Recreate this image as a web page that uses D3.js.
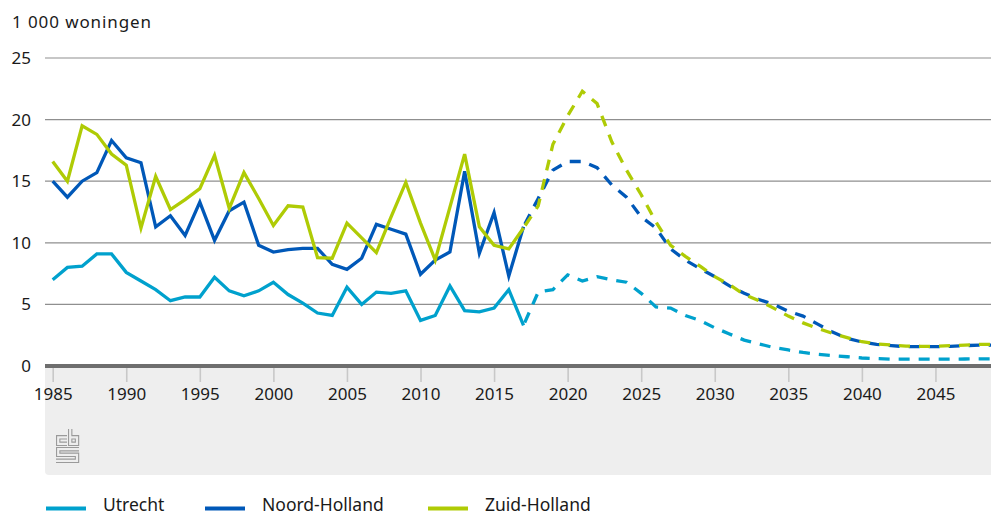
<!DOCTYPE html>
<html>
<head>
<meta charset="utf-8">
<script src="https://cdn.jsdelivr.net/npm/d3@7"></script>
<style>
  body { margin: 0; background: #fff; }
  svg { display: block; font-family: "Noto Sans", sans-serif; }
</style>
</head>
<body>
<div id="chart"></div>
<script>
// jaren en waarden (x 1000 woningen)
var histYears = d3.range(1985, 2018);
var progYears = d3.range(2017, 2050);
var yTicks = [0, 5, 10, 15, 20, 25];
var xTicks = [1985, 1990, 1995, 2000, 2005, 2010, 2015, 2020, 2025, 2030, 2035, 2040, 2045];

var utrechtHist = [7.0, 8.0, 8.1, 9.1, 9.1, 7.6, 6.9, 6.2, 5.3, 5.6, 5.6, 7.2, 6.1, 5.7, 6.1, 6.8,
  5.8, 5.1, 4.3, 4.1, 6.4, 5.0, 6.0, 5.9, 6.1, 3.7, 4.1, 6.5, 4.5, 4.4, 4.7, 6.2, 3.3];
var utrechtProg = [3.3, 6.0, 6.2, 7.4, 6.9, 7.25, 7.0, 6.8, 5.9, 4.8, 4.7, 4.1, 3.7, 3.1, 2.6, 2.1,
  1.8, 1.5, 1.3, 1.1, 0.95, 0.85, 0.75, 0.65, 0.6, 0.55, 0.55, 0.55, 0.55, 0.56, 0.57, 0.58, 0.58];

var nhHist = [15.0, 13.7, 15.0, 15.7, 18.3, 16.9, 16.5, 11.3, 12.2, 10.6, 13.3, 10.2, 12.6, 13.3, 9.8, 9.25,
  9.45, 9.55, 9.55, 8.25, 7.85, 8.75, 11.5, 11.1, 10.7, 7.45, 8.6, 9.25, 15.8, 9.15, 12.45, 7.3, 11.3];
var nhProg = [11.3, 13.6, 15.9, 16.6, 16.6, 16.1, 14.7, 13.7, 12.1, 11.2, 9.5, 8.6, 7.9, 7.25, 6.5, 5.9,
  5.4, 5.0, 4.45, 4.05, 3.4, 2.75, 2.25, 1.95, 1.75, 1.65, 1.57, 1.57, 1.57, 1.6, 1.65, 1.7, 1.7];

var zhHist = [16.6, 15.0, 19.5, 18.8, 17.2, 16.3, 11.2, 15.4, 12.7, 13.5, 14.4, 17.1, 12.8, 15.7, 13.6, 11.4,
  13.0, 12.9, 8.8, 8.75, 11.6, 10.4, 9.2, 12.1, 14.9, 11.6, 8.6, 12.9, 17.2, 11.3, 9.8, 9.5, 11.2];
var zhProg = [11.2, 13.0, 18.0, 20.3, 22.3, 21.3, 18.2, 15.9, 13.9, 11.7, 9.8, 8.9, 8.1, 7.25, 6.6, 5.8,
  5.3, 4.7, 4.05, 3.5, 3.05, 2.65, 2.3, 1.97, 1.8, 1.7, 1.62, 1.6, 1.6, 1.65, 1.7, 1.75, 1.75];

var series = [
  {name: "Utrecht", color: "#00a1cd", hist: utrechtHist, prog: utrechtProg},
  {name: "Noord-Holland", color: "#0058b8", hist: nhHist, prog: nhProg},
  {name: "Zuid-Holland", color: "#afcb05", hist: zhHist, prog: zhProg}
];

var width = 991, height = 515;
var svg = d3.select("#chart").append("svg")
  .attr("width", width)
  .attr("height", height);

var x = d3.scaleLinear().domain([1985, 2049]).range([52.7, 994.3]);
var y = d3.scaleLinear().domain([0, 25]).range([366, 58]);

// grijs vlak onder de as
svg.append("path")
  .attr("d", "M45,366 H991 V475 H49 Q45,475 45,471 Z")
  .attr("fill", "#eeeeee");

// titel
svg.append("text")
  .attr("x", 12).attr("y", 28)
  .attr("font-size", 17).attr("fill", "#1a1a1a")
  .attr("letter-spacing", 0.9)
  .text("1 000 woningen");

// gridlijnen + y labels
svg.append("g").selectAll("line")
  .data(yTicks.filter(function(d){ return d > 0; }))
  .enter().append("line")
    .attr("x1", 45).attr("x2", width)
    .attr("y1", function(d){ return y(d); })
    .attr("y2", function(d){ return y(d); })
    .attr("stroke", "#8f8f8f").attr("stroke-width", 1.2);

svg.append("g").selectAll("text")
  .data(yTicks)
  .enter().append("text")
    .attr("x", 31)
    .attr("y", function(d){ return y(d) + 6; })
    .attr("text-anchor", "end")
    .attr("font-size", 17).attr("fill", "#1a1a1a")
    .text(function(d){ return d; });

// x as
var xAxis = svg.append("g")
  .attr("transform", "translate(0," + 366 + ")")
  .call(d3.axisBottom(x).tickValues(xTicks).tickFormat(d3.format("d")).tickSize(16).tickSizeOuter(0));
xAxis.select(".domain").remove();
xAxis.selectAll(".tick line").attr("stroke", "#c8c8c8").attr("stroke-width", 1.6);
xAxis.selectAll(".tick text")
  .attr("y", 22)
  .attr("font-family", "Noto Sans, sans-serif")
  .attr("font-size", 17).attr("fill", "#1a1a1a");

svg.append("line")
  .attr("x1", 45).attr("x2", width)
  .attr("y1", y(0)).attr("y2", y(0))
  .attr("stroke", "#6e6e6e").attr("stroke-width", 4);

// lijnen
var line = d3.line()
  .x(function(d){ return x(d[0]); })
  .y(function(d){ return y(d[1]); });

series.forEach(function(s){
  svg.append("path")
    .datum(histYears.map(function(yr, i){ return [yr, s.hist[i]]; }))
    .attr("d", line)
    .attr("fill", "none")
    .attr("stroke", s.color)
    .attr("stroke-width", 3.3);
  svg.append("path")
    .datum(progYears.map(function(yr, i){ return [yr, s.prog[i]]; }))
    .attr("d", line)
    .attr("fill", "none")
    .attr("stroke", s.color)
    .attr("stroke-width", 3.3)
    .attr("stroke-dasharray", "11,9")
    .attr("stroke-dashoffset", -3);
});

// cbs logo
var logo = svg.append("g").attr("fill", "none").attr("stroke-linejoin", "miter");
var logoPaths = [
  "M67,437.3 H58.2 V443.8 H67",
  "M70.2,429 V443.8 H77 V437.3 H70.2",
  "M79,449.2 H58.2 V454.8 H77 V460.8 H56"
];
logo.selectAll("path.o").data(logoPaths).enter().append("path")
  .attr("d", function(d){ return d; })
  .attr("stroke", "#9a9a9a").attr("stroke-width", 4.4);
logo.selectAll("path.i").data(logoPaths).enter().append("path")
  .attr("d", function(d){ return d; })
  .attr("stroke", "#eeeeee").attr("stroke-width", 2.2);

// legenda
var legendX = [46, 205, 428];
var leg = svg.append("g").selectAll("g")
  .data(series)
  .enter().append("g")
    .attr("transform", function(d, i){ return "translate(" + legendX[i] + ",508.5)"; });
leg.append("line")
  .attr("x1", 0).attr("x2", 40)
  .attr("stroke", function(d){ return d.color; })
  .attr("stroke-width", 4);
leg.append("text")
  .attr("x", 57).attr("y", 2)
  .attr("font-size", 17.5).attr("fill", "#1a1a1a")
  .text(function(d){ return d.name; });
</script>
</body>
</html>
